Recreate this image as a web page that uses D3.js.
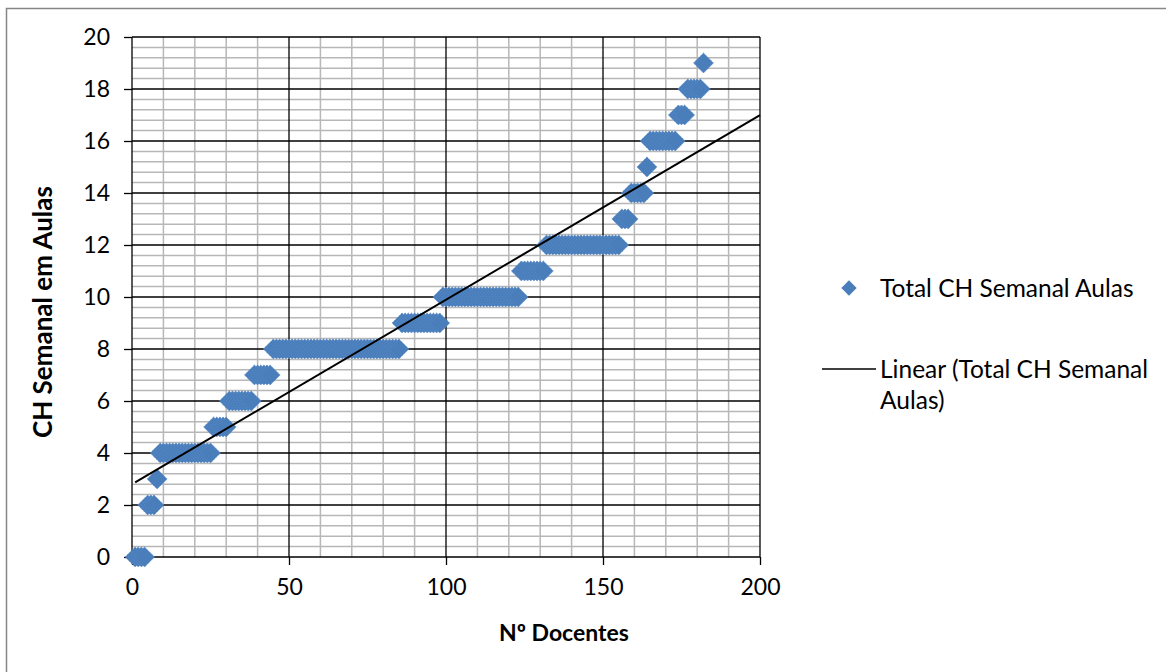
<!DOCTYPE html>
<html>
<head>
<meta charset="utf-8">
<script src="https://cdn.jsdelivr.net/npm/d3@7"></script>
<style>
  body { margin: 0; background: #fff; }
  text { font-family: Lato, 'Open Sans', sans-serif; fill: #000; }
</style>
</head>
<body>
<svg width="1166" height="672"></svg>
<script>
// CH semanal (aulas) of each docente, sorted, docente nº = position + 1
const chSemanal = [
  0, 0, 0, 0,
  2, 2, 2,
  3,
  4, 4, 4, 4, 4, 4, 4, 4, 4, 4, 4, 4, 4, 4, 4, 4, 4,
  5, 5, 5, 5, 5,
  6, 6, 6, 6, 6, 6, 6, 6,
  7, 7, 7, 7, 7, 7,
  8, 8, 8, 8, 8, 8, 8, 8, 8, 8, 8, 8, 8, 8, 8, 8, 8, 8, 8, 8,
  8, 8, 8, 8, 8, 8, 8, 8, 8, 8, 8, 8, 8, 8, 8, 8, 8, 8, 8, 8, 8,
  9, 9, 9, 9, 9, 9, 9, 9, 9, 9, 9, 9, 9,
  10, 10, 10, 10, 10, 10, 10, 10, 10, 10, 10, 10, 10, 10, 10, 10, 10, 10, 10, 10, 10, 10, 10, 10, 10,
  11, 11, 11, 11, 11, 11, 11, 11,
  12, 12, 12, 12, 12, 12, 12, 12, 12, 12, 12, 12, 12, 12, 12, 12, 12, 12, 12, 12, 12, 12, 12, 12,
  13, 13, 13,
  14, 14, 14, 14, 14,
  15,
  16, 16, 16, 16, 16, 16, 16, 16, 16,
  17, 17, 17,
  18, 18, 18, 18, 18,
  19
]
const xTicks = [0, 50, 100, 150, 200]
const yTicks = [0, 2, 4, 6, 8, 10, 12, 14, 16, 18, 20]
const seriesName = 'Total CH Semanal Aulas'
const trendName = ['Linear (Total CH Semanal', 'Aulas)']

const svg = d3.select('svg')

const margin = { top: 37, left: 132 }
const innerWidth = 628
const innerHeight = 520

const data = chSemanal.map((v, i) => ({ docente: i + 1, ch: v }))

// outer chart border (runs off the right and bottom edges)
svg.append('path')
  .attr('d', 'M6.5,680 V8.5 H1180')
  .attr('fill', 'none')
  .attr('stroke', '#868686')
  .attr('stroke-width', 1.5)

const xScale = d3.scaleLinear().domain([0, 200]).range([0, innerWidth])
const yScale = d3.scaleLinear().domain([0, 20]).range([innerHeight, 0])

const g = svg.append('g')
  .attr('transform', `translate(${margin.left}, ${margin.top})`)

// minor grid
g.append('g')
  .selectAll('line').data(d3.range(0, 201, 10).filter(d => d % 50 !== 0))
  .enter().append('line')
  .attr('x1', d => xScale(d)).attr('x2', d => xScale(d))
  .attr('y1', 0).attr('y2', innerHeight)
  .attr('stroke', '#b7b7b7').attr('stroke-width', 1.5)

g.append('g')
  .selectAll('line').data(d3.range(0, 50).map(d => d * 0.4).filter(d => Math.abs(d / 2 - Math.round(d / 2)) > 1e-6))
  .enter().append('line')
  .attr('x1', 0).attr('x2', innerWidth)
  .attr('y1', d => yScale(d)).attr('y2', d => yScale(d))
  .attr('stroke', '#b7b7b7').attr('stroke-width', 1.5)

// major grid
g.append('g')
  .selectAll('line').data(xTicks)
  .enter().append('line')
  .attr('x1', d => xScale(d)).attr('x2', d => xScale(d))
  .attr('y1', 0).attr('y2', innerHeight)
  .attr('stroke', '#000').attr('stroke-width', 1.3)

g.append('g')
  .selectAll('line').data(yTicks)
  .enter().append('line')
  .attr('x1', 0).attr('x2', innerWidth)
  .attr('y1', d => yScale(d)).attr('y2', d => yScale(d))
  .attr('stroke', '#000').attr('stroke-width', 1.3)

// axes
const xAxisGroup = g.append('g')
  .attr('transform', `translate(0, ${innerHeight})`)
  .call(d3.axisBottom(xScale).tickValues(xTicks).tickSize(8).tickPadding(14))
xAxisGroup.select('.domain').remove()
xAxisGroup.selectAll('line').attr('stroke', '#000').attr('stroke-width', 1.3)
xAxisGroup.selectAll('text').attr('font-size', 23).attr('font-family', 'Lato')

const yAxisGroup = g.append('g')
  .call(d3.axisLeft(yScale).tickValues(yTicks).tickSize(8).tickPadding(14))
yAxisGroup.select('.domain').remove()
yAxisGroup.selectAll('line').attr('stroke', '#000').attr('stroke-width', 1.3)
yAxisGroup.selectAll('text').attr('font-size', 23).attr('font-family', 'Lato')

// trend line (least squares)
const mx = d3.mean(data, d => d.docente)
const my = d3.mean(data, d => d.ch)
const slope = d3.sum(data, d => (d.docente - mx) * (d.ch - my)) /
  d3.sum(data, d => (d.docente - mx) ** 2)
const intercept = my - slope * mx

// points
const diamond = d3.symbol().type(d3.symbolDiamond2).size(255)
g.append('g')
  .selectAll('path').data(data)
  .enter().append('path')
  .attr('transform', d => `translate(${xScale(d.docente)}, ${yScale(d.ch)})`)
  .attr('d', diamond)
  .attr('fill', '#4a7ebb')
  .attr('stroke', '#5b8dc9')
  .attr('stroke-width', 0.8)
  .attr('stroke-dasharray', '1.5,1')

g.append('line')
  .attr('x1', xScale(1)).attr('y1', yScale(intercept + slope * 1))
  .attr('x2', xScale(200)).attr('y2', yScale(intercept + slope * 200))
  .attr('stroke', '#000').attr('stroke-width', 2)

// axis titles
svg.append('text')
  .attr('x', 564).attr('y', 641)
  .attr('text-anchor', 'middle')
  .attr('font-size', 23).attr('font-weight', 'bold')
  .text('Nº Docentes')

svg.append('text')
  .attr('transform', 'translate(52, 312) rotate(-90)')
  .attr('text-anchor', 'middle')
  .attr('font-size', 26).attr('font-weight', 'bold')
  .text('CH Semanal em Aulas')

// legend
const legend = svg.append('g')
legend.append('path')
  .attr('transform', 'translate(849, 288)')
  .attr('d', d3.symbol().type(d3.symbolDiamond2).size(150))
  .attr('fill', '#4a7ebb')
legend.append('text')
  .attr('x', 880).attr('y', 297)
  .attr('font-size', 24.5)
  .text(seriesName)
legend.append('line')
  .attr('x1', 822).attr('x2', 876)
  .attr('y1', 369).attr('y2', 369)
  .attr('stroke', '#000').attr('stroke-width', 1.5)
legend.append('text')
  .attr('x', 880).attr('y', 378)
  .attr('font-size', 24.5)
  .selectAll('tspan').data(trendName)
  .enter().append('tspan')
  .attr('x', 880)
  .attr('dy', (d, i) => i === 0 ? 0 : 31)
  .text(d => d)
</script>
</body>
</html>
